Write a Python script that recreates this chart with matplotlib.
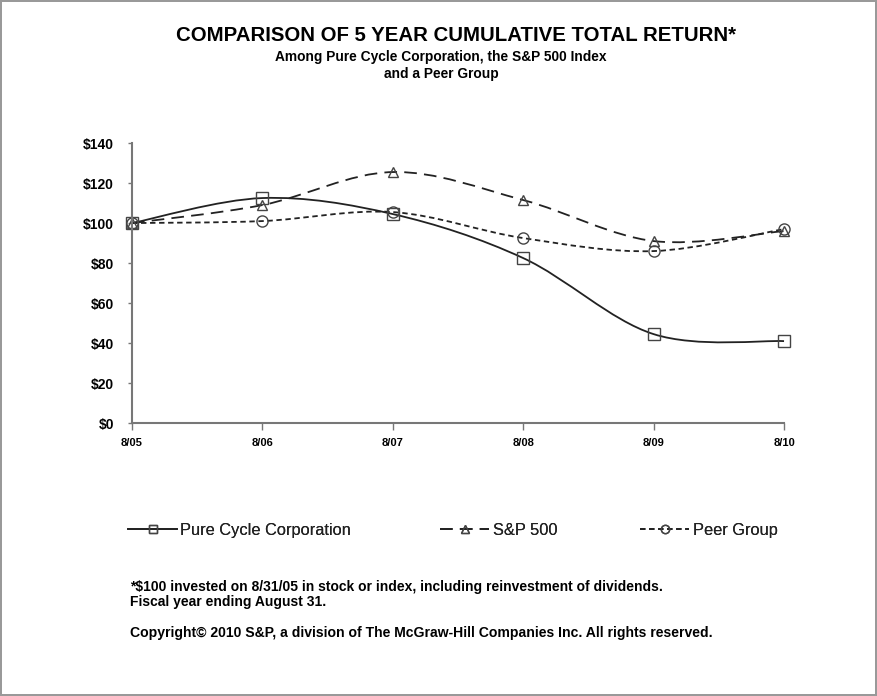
import matplotlib
matplotlib.use('Agg')
import matplotlib.pyplot as plt
from matplotlib.path import Path
from matplotlib.patches import PathPatch
from matplotlib.lines import Line2D
import numpy as np

# data
years = ['8/05', '8/06', '8/07', '8/08', '8/09', '8/10']
pure_cycle = [100, 112.5, 104.5, 82.5, 44.5, 41]
sp500 = [100, 109, 125.5, 111.5, 91, 96]
peer_group = [100, 101, 105.5, 92.5, 86, 97]

plt.rcParams['font.family'] = ['Liberation Sans', 'DejaVu Sans']

fig = plt.figure(figsize=(8.77, 6.96), dpi=100)
fig.patch.set_edgecolor('#999999')
fig.patch.set_linewidth(1.5)
ax = fig.add_axes([0.1505, 0.392, 0.7435, 0.4025])

def smooth_path(xs, ys):
    # excel-style smoothed line (cubic bezier through points)
    pts = np.column_stack([xs, ys]).astype(float)
    ext = np.vstack([pts[0], pts, pts[-1]])
    verts = [pts[0]]
    codes = [Path.MOVETO]
    for i in range(len(pts) - 1):
        p0, p1, p2, p3 = ext[i], ext[i + 1], ext[i + 2], ext[i + 3]
        verts += [p1 + (p2 - p0) / 6, p2 - (p3 - p1) / 6, p2]
        codes += [Path.CURVE4] * 3
    return Path(verts, codes)

x = np.arange(len(years))
series = [
    ('Pure Cycle Corporation', pure_cycle, '-', 's', 8),
    ('S&P 500', sp500, (0, (7, 4)), '^', 7),
    ('Peer Group', peer_group, (0, (3, 2)), 'o', 8),
]
handles = []
for name, vals, ls, mk, ms in series:
    ax.add_patch(PathPatch(smooth_path(x, vals), fill=False, edgecolor='#222222',
                           linestyle=ls, linewidth=1.3, clip_on=False))
    ax.plot(x, vals, linestyle='none', marker=mk, markersize=ms, markerfacecolor='none',
            markeredgecolor='#444444', markeredgewidth=1.0, clip_on=False)
    handles.append(Line2D([], [], color='#222222', linestyle=ls, linewidth=1.3, marker=mk,
                          markersize=6, markerfacecolor='none', markeredgecolor='#444444'))

ax.set_xlim(0, len(years) - 1)
ax.set_ylim(0, 140)
ax.set_xticks(x)
ax.set_xticklabels(years, fontsize=8, fontweight='bold')
ax.set_yticks(range(0, 141, 20))
ax.set_yticklabels(['$%d' % v for v in range(0, 141, 20)], fontsize=10, fontweight='bold')
for s in ['top', 'right']:
    ax.spines[s].set_visible(False)
for s in ['left', 'bottom']:
    ax.spines[s].set_color('#777777')
    ax.spines[s].set_linewidth(1.5)
ax.tick_params(axis='y', color='#777777', length=3, width=1, pad=10)
ax.tick_params(axis='x', color='#777777', length=5, width=1, pad=6)

fig.text(0.52, 0.949, 'COMPARISON OF 5 YEAR CUMULATIVE TOTAL RETURN*',
         ha='center', va='center', fontsize=14.7, fontweight='bold')
fig.text(0.503, 0.918, 'Among Pure Cycle Corporation, the S&P 500 Index',
         ha='center', va='center', fontsize=9.9, fontweight='bold')
fig.text(0.503, 0.894, 'and a Peer Group',
         ha='center', va='center', fontsize=9.9, fontweight='bold')

# one legend per entry so each sits where it does in the original
legend_x = [0.146, 0.502, 0.730]
for h, s, lx in zip(handles, series, legend_x):
    leg = fig.legend([h], [s[0]], loc='center left', bbox_to_anchor=(lx, 0.238),
                     frameon=False, fontsize=11.8, handlelength=3.0, handletextpad=0.2,
                     numpoints=1, borderaxespad=0, borderpad=0)
    for t in leg.get_texts():
        t.set_color('#222222')
    fig.add_artist(leg)

fig.text(0.148, 0.157, '*$100 invested on 8/31/05 in stock or index, including reinvestment of dividends.',
         fontsize=10, fontweight='bold', va='center')
fig.text(0.148, 0.135, 'Fiscal year ending August 31.',
         fontsize=10, fontweight='bold', va='center')
fig.text(0.148, 0.09, 'Copyright\u00a9 2010 S&P, a division of The McGraw-Hill Companies Inc. All rights reserved.',
         fontsize=10.1, fontweight='bold', va='center')

fig.savefig('out.png', dpi=100)
